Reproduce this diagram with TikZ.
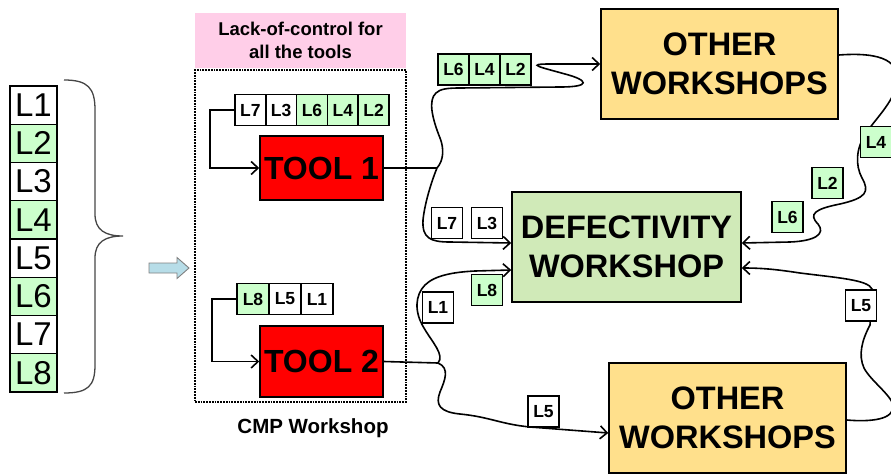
\documentclass[tikz,border=0pt]{standalone}
\usepackage{fontspec}
\setmainfont{Liberation Sans}
\usetikzlibrary{arrows.meta,backgrounds}
\definecolor{lgreen}{RGB}{204,255,204}
\definecolor{defgreen}{RGB}{208,234,184}
\definecolor{owyellow}{RGB}{255,224,140}
\definecolor{pinkbg}{RGB}{255,206,232}
\definecolor{arrowblue}{RGB}{183,221,232}
\definecolor{bracegray}{RGB}{70,70,70}
\begin{document}
\begin{tikzpicture}[x=1pt,y=-1pt,
  cell/.style={draw, line width=1.4pt, minimum width=47pt, minimum height=38.25pt, inner sep=0pt, font=\fontsize{33}{33}\selectfont},
  lab/.style={draw, line width=1.6pt, fill=white, minimum width=31pt, minimum height=31pt, inner sep=0pt, font=\fontsize{17.5}{17.5}\selectfont\bfseries},
  tool/.style={draw, line width=1.5pt, fill=red, minimum width=123pt, inner sep=0pt, font=\fontsize{32}{32}\selectfont\bfseries},
  ws/.style={draw, line width=1.5pt, minimum width=237pt, minimum height=110pt, inner sep=0pt, align=center, font=\fontsize{32.5}{39}\selectfont\bfseries},
  conn/.style={line width=1.6pt},
  arr/.style={conn, -{Straight Barb[length=7pt,width=13pt]}}
]
\useasboundingbox (0,0) rectangle (891,474);

% left column
\node[cell] (c1) at (33.5,105.1) {L1};
\node[cell, fill=lgreen] (c2) at (33.5,143.4) {L2};
\node[cell] (c3) at (33.5,181.6) {L3};
\node[cell, fill=lgreen] (c4) at (33.5,219.9) {L4};
\node[cell] (c5) at (33.5,258.1) {L5};
\node[cell, fill=lgreen] (c6) at (33.5,296.4) {L6};
\node[cell] (c7) at (33.5,334.6) {L7};
\node[cell, fill=lgreen] (c8) at (33.5,372.9) {L8};

% brace
\draw[bracegray, line width=1.3pt] (64,80) .. controls (88,80) and (95,88) .. (95,110) -- (95,214)
  .. controls (95,230) and (105,236) .. (123,236)
  .. controls (105,236) and (95,242) .. (95,258) -- (95,365)
  .. controls (95,386) and (88,393) .. (64,393);

% small block arrow
\draw[gray, fill=arrowblue, line width=0.9pt, line join=miter]
  (149,263) -- (177,263) -- (177,257.5) -- (189,268) -- (177,278.5) -- (177,273) -- (149,273) -- cycle;

% CMP workshop
\node[fill=pinkbg, minimum width=211pt, minimum height=55pt, inner sep=0pt, align=center, font=\fontsize{18.5}{23}\selectfont\bfseries] (lack) at (300.5,40.5) {Lack-of-control for\\all the tools};
\node[draw, densely dotted, line width=1.8pt, minimum width=211pt, minimum height=332pt, inner sep=0pt] (cmp) at (300.5,236) {};
\node[font=\fontsize{20.5}{20.5}\selectfont\bfseries] (cmplabel) at (313,428) {CMP Workshop};

\node[tool, minimum height=64pt] (tool1) at (321.5,168) {TOOL 1};
\node[tool, minimum height=71pt] (tool2) at (321.5,361.5) {TOOL 2};

\node[lab, minimum width=30.8pt] (t1a) at (250.4,110) {L7};
\node[lab, minimum width=30.8pt] (t1b) at (281.2,110) {L3};
\node[lab, minimum width=30.8pt, fill=lgreen] (t1c) at (312,110) {L6};
\node[lab, minimum width=30.8pt, fill=lgreen] (t1d) at (342.8,110) {L4};
\node[lab, minimum width=30.8pt, fill=lgreen] (t1e) at (373.6,110) {L2};

\node[lab, minimum width=32pt, fill=lgreen] (t2a) at (253,299) {L8};
\node[lab, minimum width=32pt] (t2b) at (285,299) {L5};
\node[lab, minimum width=32pt] (t2c) at (317,299) {L1};

\draw[arr] (t1a.west) -- ++(-24,0) |- (tool1.west);
\draw[arr] (t2a.west) -- ++(-24,0) |- (tool2.west);

% workshops
\node[ws, fill=owyellow] (ow1) at (719.5,64) {OTHER\\WORKSHOPS};
\node[ws, fill=defgreen, minimum width=229pt] (def) at (626.5,247) {DEFECTIVITY\\WORKSHOP};
\node[ws, fill=owyellow] (ow2) at (727.5,418) {OTHER\\WORKSHOPS};

% flow labels
\node[lab, fill=lgreen] (fa) at (453.5,69.5) {L6};
\node[lab, fill=lgreen] (fb) at (484.5,69.5) {L4};
\node[lab, fill=lgreen] (fc) at (515.5,69.5) {L2};
\node[lab] (f7) at (447,223) {L7};
\node[lab] (f3) at (487,223) {L3};
\node[lab] (f1) at (438,307.5) {L1};
\node[lab, fill=lgreen] (f8) at (487,290) {L8};
\node[lab] (f5) at (543.5,411.5) {L5};
\node[lab, fill=lgreen] (r4) at (876,142) {L4};
\node[lab, fill=lgreen] (r2) at (827.5,183) {L2};
\node[lab, fill=lgreen] (r6) at (787.5,217) {L6};
\node[lab] (r5) at (861,305.5) {L5};

\coordinate (j1) at (437,168);
\coordinate (j2) at (438,363);

\begin{pgfonlayer}{background}
% tool 1 outputs
\draw[conn] (tool1.east) -- (j1);
\draw[arr] (j1) .. controls (444,160) and (444,148) .. (440,138)
  .. controls (432,118) and (428,100) .. (436,93)
  .. controls (440,89) and (447,88) .. (460,88) -- (560,87)
  .. controls (592,87) and (588,80) .. (565,74)
  .. controls (540,67) and (525,64) .. (550,64) -- (ow1.west);
\draw[arr] (j1) .. controls (434,175) and (425,200) .. (423,220)
  .. controls (422,238) and (430,242) .. (450,242) -- ([yshift=4pt]def.west);
% tool 2 outputs
\draw[conn] (tool2.east) -- (j2);
\draw[arr] (j2) .. controls (445,355) and (432,342) .. (424,328)
  .. controls (414,312) and (415,295) .. (425,285)
  .. controls (435,275) and (455,272) .. (475,271) -- ([yshift=-23pt]def.west);
\draw[arr] (j2) .. controls (450,368) and (445,380) .. (440,392)
  .. controls (435,405) and (440,412) .. (460,414)
  .. controls (490,417) and (500,424) .. (530,427) -- ([yshift=-15pt]ow2.west);
% right side returns
\draw[arr] ([yshift=9pt]ow1.east) .. controls (880,52) and (905,60) .. (895,90)
  .. controls (890,105) and (875,120) .. (866,133)
  .. controls (856,148) and (855,165) .. (862,178)
  .. controls (870,192) and (866,198) .. (840,204)
  .. controls (815,209) and (808,214) .. (818,224)
  .. controls (826,234) and (815,241) .. (790,242) -- ([yshift=4pt]def.east);
\draw[arr] ([yshift=-2pt]ow2.east) .. controls (870,422) and (895,420) .. (893,405)
  .. controls (891,395) and (870,380) .. (864,368)
  .. controls (858,355) and (862,340) .. (870,325) -- (872,289)
  .. controls (868,280) and (840,278) .. (800,273)
  .. controls (780,270) and (765,268) .. ([yshift=-21pt]def.east);
\end{pgfonlayer}
\end{tikzpicture}
\end{document}
